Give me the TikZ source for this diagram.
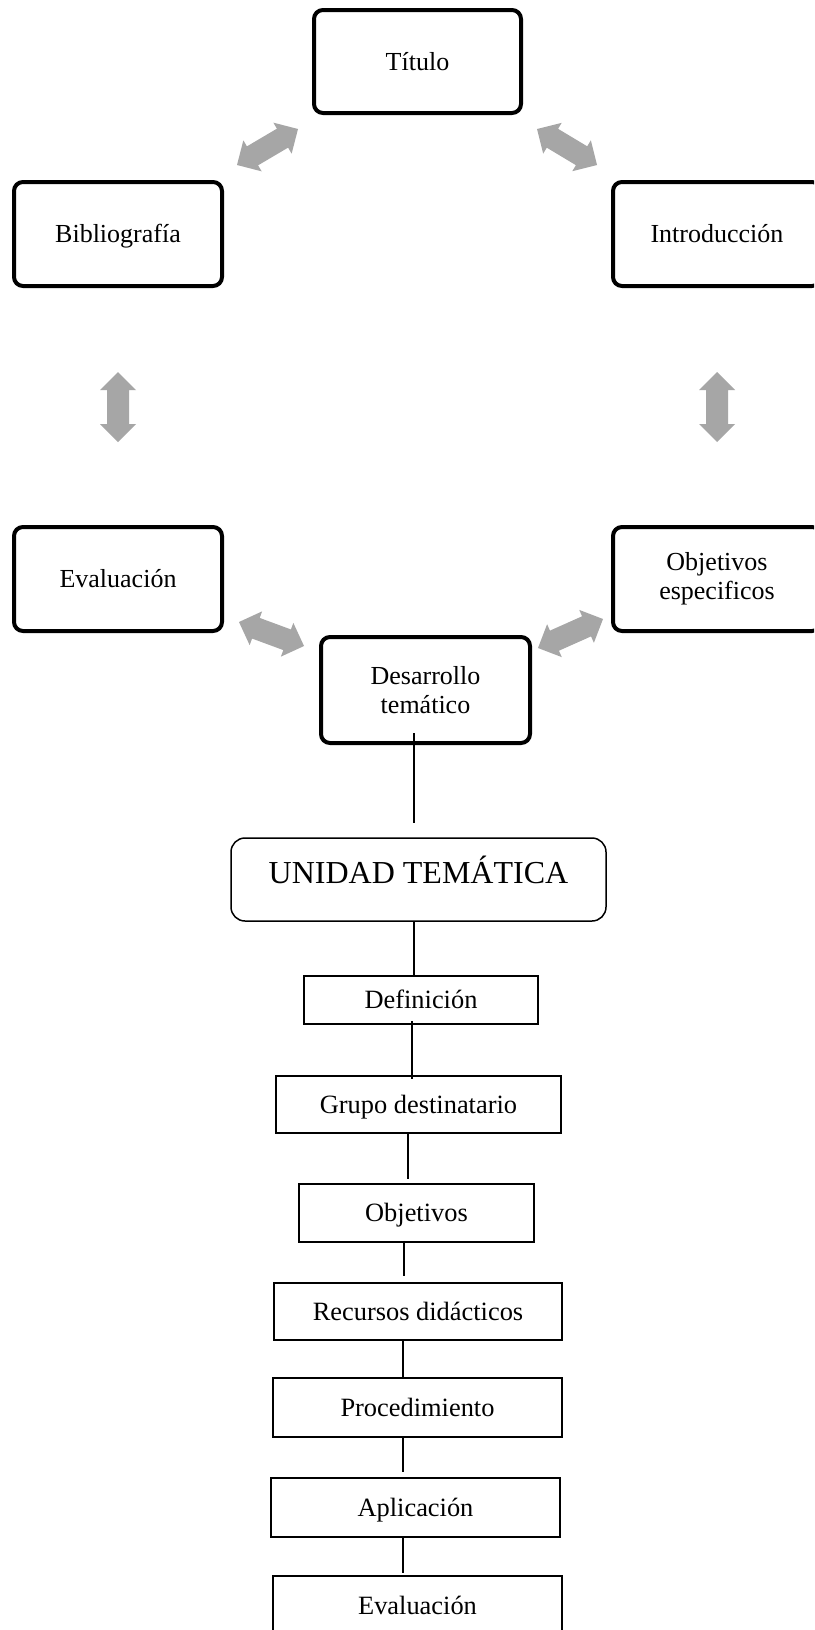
\documentclass[tikz,border=0pt]{standalone}
\usepackage{fontspec}
\setmainfont{Liberation Serif}
\usetikzlibrary{calc}
\definecolor{arrowgray}{RGB}{166,166,166}
\newcommand{\dblarr}[2]{%
  \path ($(#1)!18pt!(#2)$) coordinate (h1) ($(#2)!18pt!(#1)$) coordinate (h2);
  \fill[arrowgray] (#1) -- ($(h1)!18pt!90:(#2)$) -- ($(h1)!11pt!90:(#2)$)
    -- ($(h2)!11pt!-90:(#1)$) -- ($(h2)!18pt!-90:(#1)$) -- (#2)
    -- ($(h2)!18pt!90:(#1)$) -- ($(h2)!11pt!90:(#1)$)
    -- ($(h1)!11pt!-90:(#2)$) -- ($(h1)!18pt!-90:(#2)$) -- cycle;}
\begin{document}
\begin{tikzpicture}[x=1pt,y=-1pt,
  topbox/.style={draw, line width=4pt, rounded corners=9pt, minimum width=208pt,
    minimum height=104pt, inner sep=0pt, align=center,
    font=\fontsize{26}{29}\selectfont},
  topone/.style={topbox, text height=23.2pt, text depth=6pt},
  lowbox/.style={draw, line width=1.5pt, inner sep=0pt,
    font=\fontsize{26.4}{29}\selectfont, text height=23.5pt, text depth=6pt},
  conn/.style={line width=1.4pt}]
\useasboundingbox (0,0) rectangle (814,1630);
\fill[white] (0,0) rectangle (814,1630);
\clip (0,0) rectangle (814,1630);

% upper cycle
\node[topone, minimum width=207pt, minimum height=103pt] (titulo) at (417.5,61.5) {Título};
\node[topone] (biblio) at (118,234) {Bibliografía};
\node[topone] (intro) at (717,234) {Introducción};
\node[topone] (evalu) at (118,579) {Evaluación};
\node[topbox] (objesp) at (717,579) {Objetivos\\especificos};
\node[topbox, minimum width=209pt, minimum height=106pt] (desa) at (425.5,690) {Desarrollo\\temático};

% gray double arrows
\coordinate (a1s) at (237,165); \coordinate (a1e) at (298,129);
\coordinate (a2s) at (537,129); \coordinate (a2e) at (597,165);
\coordinate (a3s) at (118,372); \coordinate (a3e) at (118,442);
\coordinate (a4s) at (717,372); \coordinate (a4e) at (717,442);
\coordinate (a5s) at (239,622); \coordinate (a5e) at (304,646);
\coordinate (a6s) at (603,619); \coordinate (a6e) at (538,648);
\dblarr{a1s}{a1e}
\dblarr{a2s}{a2e}
\dblarr{a3s}{a3e}
\dblarr{a4s}{a4e}
\dblarr{a5s}{a5e}
\dblarr{a6s}{a6e}

% lower column
\node[draw, line width=1.5pt, rounded corners=14pt, minimum width=375pt, minimum height=83pt,
  inner sep=0pt, font=\fontsize{32}{36}\selectfont, text height=20.2pt, text depth=12pt]
  (ut) at (418.5,879.5) {UNIDAD TEMÁTICA};
\node[lowbox, minimum width=234pt, minimum height=48pt] (def) at (421,1000) {Definición};
\node[lowbox, minimum width=285pt, minimum height=57pt] (grp) at (418.5,1104.5) {Grupo destinatario};
\node[lowbox, minimum width=235pt, minimum height=58pt] (obj) at (416.5,1213) {Objetivos};
\node[lowbox, minimum width=288pt, minimum height=57pt] (rec) at (418,1311.5) {Recursos didácticos};
\node[lowbox, minimum width=289pt, minimum height=59pt] (proc) at (417.5,1407.5) {Procedimiento};
\node[lowbox, minimum width=289pt, minimum height=59pt] (apl) at (415.5,1507.5) {Aplicación};
\node[lowbox, minimum width=289pt, minimum height=59pt] (eva) at (417.5,1605.5) {Evaluación};

% connectors
\coordinate (ca) at (414,733);
\coordinate (cb) at (414,823);
\coordinate (xb) at (412,0);
\coordinate (xc) at (408,0);
\coordinate (xd) at (404,0);
\coordinate (xe) at (403,0);
\draw[conn] (ca) -- (cb);
\draw[conn] (ut.south -| ca) -- (def.north -| ca);
\draw[conn, shorten <=-4pt, shorten >=-4pt] (def.south -| xb) -- (grp.north -| xb);
\draw[conn, shorten >=4pt] (grp.south -| xc) -- (obj.north -| xc);
\draw[conn, shorten <=-2pt, shorten >=6pt] (obj.south -| xd) -- (rec.north -| xd);
\draw[conn] (rec.south -| xe) -- (proc.north -| xe);
\draw[conn, shorten >=5pt] (proc.south -| xe) -- (apl.north -| xe);
\draw[conn, shorten >=2pt] (apl.south -| xe) -- (eva.north -| xe);
\end{tikzpicture}
\end{document}
